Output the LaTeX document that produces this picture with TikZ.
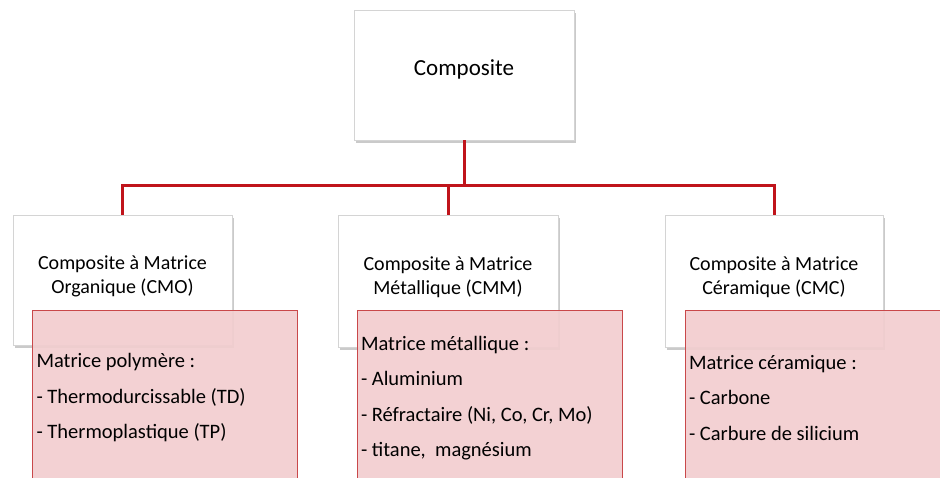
\documentclass[tikz,border=0pt]{standalone}
\usepackage{fontspec}
\setmainfont{Carlito}
\usetikzlibrary{shapes, positioning, shadows, calc}
\definecolor{linkred}{HTML}{C0141B}
\definecolor{pinkfill}{HTML}{F2CDCF}
\definecolor{pinkdraw}{HTML}{C9484A}
\definecolor{boxdraw}{HTML}{D4D4D4}

\begin{document}
\begin{tikzpicture}[x=1pt, y=-1pt, font=\fontsize{20}{24}\selectfont]
\tikzset{cat/.style={draw=boxdraw, fill=white, rectangle, align=center, text depth=11pt, drop shadow={shadow xshift=2pt, shadow yshift=-3pt, opacity=0.35, fill=black!60}},
sub/.style={draw=pinkdraw, fill=pinkfill, fill opacity=0.92, text opacity=1, rectangle, align=flush left, inner xsep=4pt, minimum width=265pt, minimum height=176pt, text width=257pt, font=\fontsize{20.5}{35.5}\selectfont},
link/.style={draw=linkred, line width=3pt}}
\useasboundingbox (0,0) rectangle (940,477);
\node[cat, minimum width=220pt, minimum height=130pt, text depth=14pt, font=\fontsize{23}{28}\selectfont] (T) at (464,75) {Composite};
\node[cat, minimum width=219pt, minimum height=130pt] (CMO) at (122.5,280) {Composite à Matrice\\Organique (CMO)};
\node[cat, minimum width=220pt, minimum height=132pt] (CMM) at (448,281) {Composite à Matrice\\Métallique (CMM)};
\node[cat, minimum width=218pt, minimum height=132pt] (CMC) at (774,281) {Composite à Matrice\\Céramique (CMC)};
\coordinate (J) at (464,185);
\draw[link] (T.south) -- (J); \draw[link] (J) -| (CMO.north);
\draw[link] (J -| CMM.north) -- (CMM.north); \draw[link] (J) -| (CMC.north);
\node[sub, minimum width=264pt] (P1) at (165,398) {Matrice polymère :\\- Thermodurcissable (TD)\\- Thermoplastique (TP)};
\node[sub] (P2) at (489.5,398) {Matrice métallique :\\- Aluminium\\- Réfractaire (Ni, Co, Cr, Mo)\\- titane,\ \ magnésium};
\node[sub] (P3) at (817.5,398) {Matrice céramique :\\- Carbone\\- Carbure de silicium};
\end{tikzpicture}
\end{document}
